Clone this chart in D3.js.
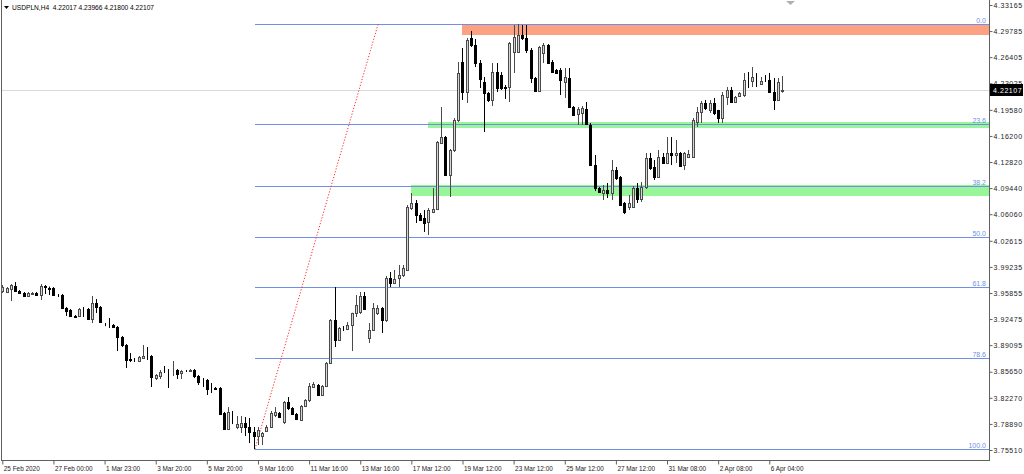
<!DOCTYPE html>
<html><head><meta charset="utf-8">
<script src="https://cdn.jsdelivr.net/npm/d3@7"></script>
<style>html,body{margin:0;padding:0;background:#fff;overflow:hidden}svg{display:block}</style>
</head><body><svg id="c" width="1024" height="474"></svg>
<script>
// ---------------- data ----------------
const symbol = "USDPLN,H4";
const headerOHLC = ["4.22017", "4.23966", "4.21800", "4.22107"];

const open = [
3.9611,3.9598,3.9636,3.9675,3.9611,3.9585,3.9546,3.9578,3.9585,3.9559,
3.9675,3.9649,3.9649,3.9559,3.9559,3.9390,3.9365,3.9287,3.9287,3.9371,
3.9377,3.9248,3.9455,3.9403,3.9176,3.9157,3.9170,3.9144,3.9014,3.8911,
3.8729,3.8717,3.8704,3.8743,3.8768,3.8768,3.8483,3.8509,3.8574,3.8587,
3.8587,3.8587,3.8548,3.8574,3.8580,3.8587,3.8509,3.8458,3.8458,3.8354,
3.8354,3.8354,3.8030,3.7822,3.8043,3.7849,3.7849,3.7900,3.7849,3.7784,
3.7732,3.7738,3.7797,3.7849,3.8004,3.8030,3.7913,3.8172,3.8094,3.8017,
3.7939,3.8120,3.8198,3.8367,3.8393,3.8263,3.8380,3.8678,3.9235,3.8976,
3.9118,3.9118,3.9170,3.9326,3.9339,3.9546,3.9002,3.9105,3.9326,3.9390,
3.9235,3.9779,3.9714,3.9779,3.9818,3.9883,4.0686,4.0751,4.0595,4.0556,
4.0505,4.0634,4.0673,4.1528,4.1606,4.1114,4.1438,4.1826,4.2578,4.2189,
4.2889,4.2798,4.2565,4.2319,4.2176,4.2086,4.2448,4.2409,4.2254,4.2254,
4.2707,4.2707,4.2928,4.2889,4.2733,4.2371,4.2202,4.2694,4.2798,4.2578,
4.2474,4.2474,4.2319,4.2371,4.1995,4.1904,4.1917,4.1969,4.1762,4.1243,
4.0945,4.0881,4.0919,4.0881,4.1179,4.1088,4.0751,4.0699,4.0699,4.0945,
4.0803,4.0958,4.1334,4.1218,4.1088,4.1347,4.1269,4.1399,4.1373,4.1399,
4.1243,4.1347,4.1347,4.1800,4.1930,4.2047,4.1956,4.2047,4.1956,4.1852,
4.2125,4.2215,4.2060,4.2138,4.2150,4.2345,4.2332,4.2396,4.2293,4.2345,
4.2345,4.2189,4.2086,4.22017];
const high = [
3.9688,3.9662,3.9701,3.9727,3.9624,3.9598,3.9598,3.9598,3.9598,3.9701,
3.9688,3.9668,3.9662,3.9572,3.9572,3.9403,3.9377,3.9300,3.9390,3.9403,
3.9390,3.9546,3.9507,3.9416,3.9196,3.9261,3.9183,3.9157,3.9027,3.8924,
3.8807,3.8743,3.8768,3.8911,3.8885,3.8781,3.8535,3.8587,3.8639,3.8600,
3.8704,3.8600,3.8587,3.8587,3.8600,3.8600,3.8522,3.8483,3.8471,3.8419,
3.8367,3.8367,3.8043,3.8107,3.8056,3.7991,3.7991,3.7978,3.7965,3.7849,
3.7849,3.7784,3.7874,3.8056,3.8107,3.8043,3.8185,3.8237,3.8107,3.8030,
3.8133,3.8211,3.8419,3.8432,3.8406,3.8393,3.8691,3.9248,3.9662,3.9144,
3.9157,3.9209,3.9330,3.9559,3.9598,3.9598,3.9196,3.9455,3.9429,3.9403,
3.9805,3.9857,3.9883,3.9948,3.9948,4.0725,4.0880,4.0790,4.0621,4.0660,
4.0686,4.0945,4.1554,4.1995,4.1619,4.1451,4.1852,4.2578,4.2759,4.2889,
4.2980,4.2876,4.2604,4.2384,4.2189,4.2565,4.2565,4.2448,4.2280,4.2837,
4.3057,4.3070,4.3057,4.3057,4.2759,4.2384,4.2785,4.2824,4.2811,4.2604,
4.2487,4.2500,4.2500,4.2500,4.2008,4.1995,4.2008,4.2060,4.1788,4.1373,
4.0958,4.0984,4.1010,4.1308,4.1218,4.1101,4.0764,4.0855,4.0971,4.1010,
4.1023,4.1399,4.1399,4.1308,4.1438,4.1399,4.1606,4.1606,4.1567,4.1412,
4.1412,4.1438,4.1852,4.1995,4.2073,4.2086,4.2086,4.2112,4.1958,4.2189,
4.2254,4.2254,4.2138,4.2189,4.2435,4.2448,4.2513,4.2435,4.2384,4.2409,
4.2435,4.2371,4.2371,4.23966];
const low = [
3.9585,3.9585,3.9481,3.9598,3.9572,3.9533,3.9533,3.9559,3.9546,3.9494,
3.9572,3.9559,3.9546,3.9533,3.9377,3.9287,3.9274,3.9261,3.9274,3.9274,
3.9235,3.9196,3.9326,3.9196,3.9157,3.9131,3.9131,3.8833,3.8885,3.8613,
3.8691,3.8691,3.8691,3.8730,3.8717,3.8367,3.8458,3.8471,3.8548,3.8354,
3.8509,3.8471,3.8471,3.8561,3.8574,3.8483,3.8393,3.8367,3.8263,3.8289,
3.8328,3.8004,3.7810,3.7810,3.7887,3.7822,3.7771,3.7732,3.7641,3.7560,
3.7615,3.7615,3.7784,3.7849,3.7978,3.7965,3.7887,3.8069,3.8004,3.7939,
3.7926,3.8107,3.8172,3.8354,3.8250,3.8250,3.8367,3.8665,3.8885,3.8963,
3.9092,3.9105,3.8833,3.9274,3.9313,3.9365,3.8937,3.9092,3.9300,3.9066,
3.9209,3.9662,3.9701,3.9662,3.9792,3.9870,4.0660,4.0492,4.0518,4.0375,
4.0336,4.0621,4.0660,4.1515,4.1101,4.0829,4.1412,4.1800,4.2086,4.2047,
4.2772,4.2513,4.2241,4.1671,4.2060,4.2008,4.2189,4.2215,4.2099,4.2060,
4.2435,4.2694,4.2863,4.2694,4.2306,4.2189,4.2189,4.2565,4.2552,4.2435,
4.2422,4.2150,4.2112,4.1982,4.1878,4.1762,4.1762,4.1762,4.1230,4.0906,
4.0881,4.0790,4.0816,4.0790,4.1049,4.0712,4.0608,4.0660,4.0686,4.0751,
4.0764,4.0932,4.1179,4.1049,4.1075,4.1256,4.1256,4.1243,4.1269,4.1218,
4.1179,4.1334,4.1334,4.1736,4.1788,4.1956,4.1917,4.1891,4.1788,4.1788,
4.2021,4.2047,4.2047,4.2125,4.2125,4.2241,4.2254,4.2254,4.2280,4.2319,
4.2176,4.1956,4.2073,4.21800];
const close = [
3.9662,3.9649,3.9688,3.9611,3.9585,3.9546,3.9585,3.9585,3.9559,3.9675,
3.9662,3.9643,3.9559,3.9553,3.9390,3.9352,3.9287,3.9274,3.9377,3.9365,
3.9248,3.9455,3.9403,3.9209,3.9170,3.9155,3.9144,3.9014,3.8911,3.8717,
3.8723,3.8715,3.8755,3.8768,3.8766,3.8496,3.8522,3.8561,3.8572,3.8585,
3.8589,3.8535,3.8574,3.8572,3.8587,3.8509,3.8432,3.8456,3.8341,3.8352,
3.8341,3.8017,3.7822,3.8043,3.8041,3.7887,3.7900,3.7849,3.7784,3.7732,
3.7810,3.7771,3.7849,3.8030,3.8043,3.7978,3.8172,3.8094,3.8017,3.7952,
3.8120,3.8198,3.8380,3.8406,3.8263,3.8380,3.8678,3.9235,3.8976,3.9131,
3.9116,3.9170,3.9326,3.9429,3.9546,3.9377,3.9105,3.9390,3.9390,3.9235,
3.9779,3.9714,3.9766,3.9818,3.9909,4.0699,4.0751,4.0595,4.0531,4.0492,
4.0660,4.0673,4.1541,4.1606,4.1114,4.1438,4.1826,4.2435,4.2189,4.2863,
4.2798,4.2565,4.2358,4.2176,4.2086,4.2448,4.2241,4.2241,4.2243,4.2824,
4.2902,4.2928,4.2889,4.2733,4.2371,4.2202,4.2772,4.2798,4.2565,4.2448,
4.2435,4.2345,4.2384,4.1995,4.1891,4.1969,4.1982,4.1775,4.1243,4.0945,
4.0894,4.0919,4.0881,4.1179,4.1075,4.0725,4.0634,4.0751,4.0945,4.0803,
4.0958,4.1334,4.1205,4.1088,4.1347,4.1269,4.1399,4.1373,4.1399,4.1230,
4.1399,4.1386,4.1826,4.1930,4.2047,4.1982,4.2047,4.1917,4.1852,4.2150,
4.2215,4.2060,4.2125,4.2176,4.2345,4.2343,4.2384,4.2394,4.2332,4.2343,
4.2189,4.2086,4.2319,4.22107];

const priceTicks = [4.33165,4.29785,4.26405,4.23025,4.19580,4.16200,4.12820,4.09440,4.06060,
  4.02615,3.99235,3.95855,3.92475,3.89095,3.85650,3.82270,3.78890,3.75510];
const timeTickIndex = [0,12,24,36,48,60,72,84,96,108,120,132,144,156,168,180];
const timeLabels = ["25 Feb 2020","27 Feb 00:00","1 Mar 23:00","3 Mar 20:00","5 Mar 20:00",
  "9 Mar 16:00","11 Mar 16:00","13 Mar 16:00","17 Mar 12:00","19 Mar 12:00","23 Mar 12:00",
  "25 Mar 12:00","27 Mar 12:00","31 Mar 08:00","2 Apr 08:00","6 Apr 04:00"];

const fibLevels = [0, 23.6, 38.2, 50, 61.8, 78.6, 100];
const fibHigh = 4.3070, fibLow = 3.7564;
const fibAnchorIndex = [59.3, 88.2];

const zoneStart = [108.2, 100.2, 96.2];
const zoneTop = [4.3070, 4.1807, 4.0984];
const zoneBottom = [4.2928, 4.1722, 4.0842];
const zoneKind = ["resistance", "support", "support"];

const lastPrice = 4.22107;

// ---------------- drawing ----------------
const svg = d3.select("#c");
const plotL = 2, plotR = 989, plotB = 460;
const n = open.length;
const x = d3.scaleLinear().domain([0, n - 1]).range([2.3, 2.3 + 4.261 * (n - 1)]);
const y = d3.scaleLinear().domain([3.75510, 4.33165]).range([450, 5]);
const FONT = "Liberation Sans, Arial, sans-serif";
const fibColor = "#6f8fe8";

svg.append("rect").attr("width", 1024).attr("height", 474).attr("fill", "#fff");

const defs = svg.append("defs");
defs.append("clipPath").attr("id", "plot").append("rect")
  .attr("x", plotL).attr("y", 0).attr("width", plotR - plotL).attr("height", plotB);

const g = svg.append("g").attr("clip-path", "url(#plot)");

// zones (background)
const zoneColor = {resistance: "#fca282", support: "#98f598"};
g.selectAll("rect.zone").data(zoneStart.map((s, i) => i)).join("rect")
  .attr("class", "zone")
  .attr("x", i => Math.round(x(zoneStart[i])) - 1)
  .attr("y", i => Math.round(y(zoneTop[i])))
  .attr("width", i => plotR - Math.round(x(zoneStart[i])) + 1)
  .attr("height", i => Math.round(y(zoneBottom[i])) - Math.round(y(zoneTop[i])))
  .attr("fill", i => zoneColor[zoneKind[i]]);

// current price line
g.append("line")
  .attr("x1", plotL).attr("x2", plotR)
  .attr("y1", Math.round(y(lastPrice)) + 0.5).attr("y2", Math.round(y(lastPrice)) + 0.5)
  .attr("stroke", "#d9d9d9").attr("stroke-width", 1);

// fibonacci levels
const fibPrice = l => fibHigh - (fibHigh - fibLow) * l / 100;
g.selectAll("line.fib").data(fibLevels).join("line")
  .attr("class", "fib")
  .attr("x1", Math.round(x(fibAnchorIndex[0]))).attr("x2", plotR)
  .attr("y1", d => Math.round(y(fibPrice(d))) + 0.5)
  .attr("y2", d => Math.round(y(fibPrice(d))) + 0.5)
  .attr("stroke", fibColor).attr("stroke-width", 1);
g.selectAll("text.fib").data(fibLevels).join("text")
  .attr("class", "fib")
  .attr("x", plotR - 3)
  .attr("y", d => Math.round(y(fibPrice(d))) - 1.5)
  .attr("text-anchor", "end")
  .attr("font-family", FONT).attr("font-size", 7)
  .attr("fill", fibColor)
  .text(d => d.toFixed(1));

// fib trend (dotted red)
g.append("line")
  .attr("x1", x(fibAnchorIndex[0])).attr("y1", y(fibLow))
  .attr("x2", x(fibAnchorIndex[1])).attr("y2", y(fibHigh))
  .attr("stroke", "#ff2a2a").attr("stroke-width", 1).attr("stroke-dasharray", "1.2,1.8");

// candles
const idx = d3.range(n);
const cg = g.append("g");
cg.selectAll("line.wick").data(idx).join("line")
  .attr("class", "wick")
  .attr("x1", i => Math.round(x(i)) + 0.5).attr("x2", i => Math.round(x(i)) + 0.5)
  .attr("y1", i => y(high[i])).attr("y2", i => y(low[i]))
  .attr("stroke", i => close[i] >= open[i] ? "#4a4a4a" : "#000")
  .attr("stroke-width", 1);
cg.selectAll("rect.body").data(idx).join("rect")
  .attr("class", "body")
  .attr("x", i => Math.round(x(i)) - 0.5)
  .attr("width", 2)
  .attr("y", i => Math.round(y(Math.max(open[i], close[i]))) + 0.5)
  .attr("height", i => Math.max(0, Math.round(y(Math.min(open[i], close[i]))) - Math.round(y(Math.max(open[i], close[i])))))
  .attr("fill", i => close[i] >= open[i] ? "#d6d6d6" : "#000")
  .attr("stroke", i => close[i] >= open[i] ? "#4a4a4a" : "#000")
  .attr("stroke-width", 1);

// frame
svg.append("line").attr("x1", plotL - 0.5).attr("x2", plotL - 0.5).attr("y1", 0).attr("y2", plotB + 1)
  .attr("stroke", "#606060");
svg.append("line").attr("x1", plotL - 1).attr("x2", plotR + 1).attr("y1", plotB + 0.5).attr("y2", plotB + 0.5)
  .attr("stroke", "#606060");

// right axis
const ra = svg.append("g").attr("transform", `translate(${plotR + 0.5},0)`)
  .call(d3.axisRight(y).tickValues(priceTicks).tickSize(3).tickPadding(1)
    .tickFormat(d => d.toFixed(5)));
ra.select(".domain").remove();
ra.append("line").attr("x1", 0).attr("x2", 0).attr("y1", 0).attr("y2", plotB + 1).attr("stroke", "#606060");
ra.selectAll(".tick line").attr("stroke", "#606060");
ra.selectAll(".tick text").attr("font-family", FONT).attr("font-size", 7)
  .attr("letter-spacing", 0.55).attr("fill", "#222");

// bottom axis
const ba = svg.append("g").attr("transform", `translate(0,${plotB + 0.5})`)
  .call(d3.axisBottom(x).tickValues(timeTickIndex).tickSize(4).tickPadding(2)
    .tickFormat((d, i) => timeLabels[i]));
ba.select(".domain").remove();
ba.selectAll(".tick line").attr("stroke", "#606060");
ba.selectAll(".tick text").attr("font-family", FONT).attr("font-size", 6.4)
  .attr("text-anchor", "start").attr("x", 1).attr("fill", "#222");

// last price tag
const ly = Math.round(y(lastPrice));
svg.append("rect").attr("x", plotR + 1).attr("y", ly - 6).attr("width", 33).attr("height", 12).attr("fill", "#000");
svg.append("text").attr("x", plotR + 4).attr("y", ly + 3).attr("font-family", FONT).attr("font-size", 7)
  .attr("letter-spacing", 0.55).attr("fill", "#fff").text(lastPrice.toFixed(5));

// header
svg.append("path").attr("d", "M4,6 L9,6 L6.5,9 Z").attr("fill", "#000");
svg.append("text").attr("x", 12).attr("y", 10).attr("font-family", FONT).attr("font-size", 6.6)
  .attr("fill", "#000").attr("xml:space", "preserve")
  .attr("textLength", 142).attr("lengthAdjust", "spacingAndGlyphs")
  .text(symbol + "  " + headerOHLC.join(" "));

// chart shift marker
svg.append("path").attr("d", "M786,1 L795,1 L790.5,5 Z").attr("fill", "#b0b0b0");
</script></body></html>
